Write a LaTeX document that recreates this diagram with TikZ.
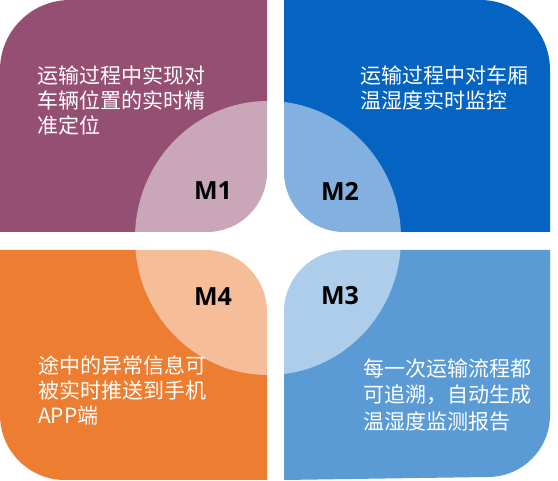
\documentclass[tikz,border=0pt]{standalone}
\usepackage{fontspec}
\newfontfamily\cjkfont{Noto Sans CJK SC}
\newfontfamily\tagfont{Open Sans}
\usetikzlibrary{positioning}
\definecolor{mpurple}{HTML}{954F72}
\definecolor{mdeep}{HTML}{0563C1}
\definecolor{msky}{HTML}{5B9BD5}
\definecolor{morange}{HTML}{ED7D31}

\begin{document}
\begin{tikzpicture}[
  x=1pt, y=1pt,
  desc/.style={font=\cjkfont\fontsize{21}{25}\selectfont, text=white,
               align=left, anchor=west, inner sep=0pt},
  tag/.style={font=\tagfont\bfseries\fontsize{25}{25}\selectfont,
              text=black, inner sep=0pt},
  tint/.style={fill=white, fill opacity=0.5},
]
\useasboundingbox (0,0) rectangle (558,481);
\fill[white] (0,0) rectangle (558,481);
% four quadrants
\fill[mpurple] (0,249) -- (0,411) arc[start angle=180, end angle=90, radius=70]
  -- (267,481) -- (267,309) arc[start angle=0, end angle=-90, radius=60] -- cycle;
\fill[mdeep] (550,249) -- (550,411) arc[start angle=0, end angle=90, radius=70]
  -- (284,481) -- (284,309) arc[start angle=180, end angle=270, radius=60] -- cycle;
\fill[morange] (0,231) -- (0,66) arc[start angle=180, end angle=270, radius=65]
  -- (267,1) -- (267,169) arc[start angle=0, end angle=90, radius=62] -- cycle;
\fill[msky] (550,231) -- (550,66) arc[start angle=0, end angle=-90, radius=62]
  -- (284,1) -- (284,169) arc[start angle=180, end angle=90, radius=62] -- cycle;
% light centre
\fill[tint] (268,243) ellipse[x radius=133, y radius=137];
% descriptions
\node[desc] (d1) at (37,381) {运输过程中实现对\\车辆位置的实时精\\准定位};
\node[desc] (d2) at (360,393.5) {运输过程中对车厢\\温湿度实时监控};
\node[desc] (d4) at (38,91) {途中的异常信息可\\被实时推送到手机\\APP端};
\node[desc, font=\cjkfont\fontsize{21}{26.5}\selectfont] (d3) at (363,86)
  {每一次运输流程都\\可追溯，自动生成\\温湿度监测报告};
% module tags
\node[tag] (m1) at (213,290) {M1};
\node[tag] (m2) at (340,290) {M2};
\node[tag] (m3) at (340,185) {M3};
\node[tag] (m4) at (213,184) {M4};
\end{tikzpicture}
\end{document}
